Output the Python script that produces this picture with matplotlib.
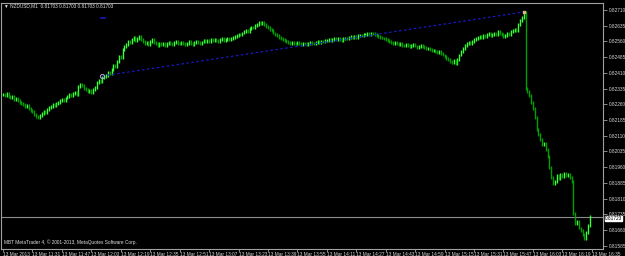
import matplotlib
matplotlib.use("Agg")
import matplotlib.pyplot as plt
import numpy as np

# ---- data ----
first_open = 0.82305
closes = [
    0.82305, 0.82300, 0.82310, 0.82298, 0.82290, 0.82295, 0.82285, 0.82290, 0.82278, 0.82270, 0.82265,
    0.82260, 0.82250, 0.82255, 0.82240, 0.82230, 0.82225, 0.82210, 0.82200, 0.82195, 0.82205,
    0.82215, 0.82225, 0.82220, 0.82235, 0.82245, 0.82250, 0.82258, 0.82252, 0.82262, 0.82270,
    0.82278, 0.82285, 0.82280, 0.82290, 0.82298, 0.82305, 0.82300, 0.82310, 0.82315, 0.82308,
    0.82345, 0.82355, 0.82348, 0.82335, 0.82330, 0.82320, 0.82325, 0.82315, 0.82330, 0.82340, 0.82365, 0.82375, 0.82370, 0.82388,
    0.82392, 0.82398, 0.82410, 0.82405, 0.82425, 0.82445, 0.82440, 0.82465, 0.82490, 0.82485, 0.82520,
    0.82535, 0.82545, 0.82560, 0.82555, 0.82570, 0.82578, 0.82565, 0.82575, 0.82582, 0.82570,
    0.82560, 0.82550, 0.82555, 0.82545, 0.82560, 0.82568, 0.82555, 0.82548, 0.82540, 0.82550, 0.82545, 0.82552, 0.82540, 0.82548, 0.82555,
    0.82550, 0.82545, 0.82555, 0.82560, 0.82552, 0.82548, 0.82556, 0.82550, 0.82545, 0.82552, 0.82558, 0.82550, 0.82546, 0.82554, 0.82560, 0.82555, 0.82550, 0.82557, 0.82562, 0.82558,
    0.82565, 0.82560, 0.82568, 0.82562, 0.82570, 0.82565, 0.82560, 0.82567, 0.82572, 0.82566, 0.82570, 0.82575, 0.82568, 0.82573, 0.82580,
    0.82585, 0.82590, 0.82595, 0.82592, 0.82600, 0.82605, 0.82612, 0.82608, 0.82620, 0.82628, 0.82625, 0.82635, 0.82640, 0.82650, 0.82645,
    0.82648, 0.82640, 0.82632, 0.82625, 0.82618, 0.82610, 0.82600, 0.82595, 0.82590, 0.82580, 0.82575, 0.82570, 0.82565, 0.82560, 0.82555,
    0.82552, 0.82555, 0.82550, 0.82548, 0.82553, 0.82550, 0.82546, 0.82552, 0.82549, 0.82545, 0.82550, 0.82555, 0.82552, 0.82548, 0.82553, 0.82558, 0.82555, 0.82560, 0.82557, 0.82562,
    0.82565, 0.82568, 0.82563, 0.82570, 0.82572, 0.82568, 0.82575, 0.82570, 0.82566, 0.82572, 0.82576, 0.82573, 0.82578, 0.82582, 0.82578, 0.82585, 0.82580, 0.82586, 0.82590, 0.82587,
    0.82592, 0.82595, 0.82598, 0.82594, 0.82600, 0.82596, 0.82592, 0.82588, 0.82585, 0.82580, 0.82576, 0.82572, 0.82568, 0.82565, 0.82560,
    0.82556, 0.82552, 0.82555, 0.82548, 0.82545, 0.82550, 0.82542, 0.82538, 0.82543, 0.82540, 0.82535, 0.82540, 0.82545, 0.82538, 0.82532, 0.82536, 0.82540, 0.82535, 0.82530, 0.82525, 0.82528, 0.82520, 0.82515, 0.82518, 0.82510,
    0.82505, 0.82510, 0.82500, 0.82495, 0.82488, 0.82480, 0.82472, 0.82465, 0.82458, 0.82470,
    0.82452, 0.82475, 0.82495, 0.82510, 0.82525, 0.82540, 0.82548, 0.82555, 0.82550, 0.82560,
    0.82570, 0.82575, 0.82580, 0.82585, 0.82578, 0.82590, 0.82585, 0.82592, 0.82598, 0.82590, 0.82595, 0.82600, 0.82595, 0.82605, 0.82598,
    0.82592, 0.82585, 0.82590, 0.82600, 0.82595, 0.82605, 0.82610, 0.82615, 0.82610, 0.82640, 0.82660, 0.82675, 0.82700,
    0.82335, 0.82320, 0.82300, 0.82270, 0.82240, 0.82195, 0.82140, 0.82115, 0.82090, 0.82070, 0.82075, 0.82045, 0.82010,
    0.81960, 0.81910, 0.81880, 0.81890, 0.81920, 0.81905, 0.81925, 0.81915, 0.81930, 0.81920, 0.81925, 0.81910, 0.81890,
    0.81740, 0.81690, 0.81700, 0.81670, 0.81660, 0.81640, 0.81620, 0.81650, 0.81680, 0.81723,
]
current_price = 0.81723
y_ticks = [0.82710, 0.82635, 0.82560, 0.82485, 0.82410, 0.82335, 0.82260, 0.82185,
           0.82110, 0.82035, 0.81960, 0.81885, 0.81810, 0.81735, 0.81660, 0.81585]
x_tick_labels = ["13 Mar 2013", "13 Mar 11:31", "13 Mar 11:47", "13 Mar 12:03", "13 Mar 12:19",
                 "13 Mar 12:35", "13 Mar 12:51", "13 Mar 13:07", "13 Mar 13:23", "13 Mar 13:39",
                 "13 Mar 13:55", "13 Mar 14:11", "13 Mar 14:27", "13 Mar 14:43", "13 Mar 14:59",
                 "13 Mar 15:15", "13 Mar 15:31", "13 Mar 15:47", "13 Mar 16:03", "13 Mar 16:19",
                 "13 Mar 16:35"]
bars_per_label = 16
trend_x = [54, 283]
trend_y = [0.82395, 0.82700]
title_text = "NZDUSD,M1  0.81703 0.81703 0.81703 0.81703"
footer_text = "MBT MetaTrader 4, © 2001-2013, MetaQuotes Software Corp."

# ---- figure ----
W, H = 625, 256
FS = 3.4
fig = plt.figure(figsize=(W / 100, H / 100), dpi=100, facecolor="black")
ax = fig.add_axes([1 / W, (H - 249) / H, 602 / W, 246 / H], facecolor="black")

closes_a = np.array(closes)
opens_a = np.concatenate([[first_open], closes_a[:-1]])
wick = 0.00007
highs = np.maximum(opens_a, closes_a) + wick
lows = np.minimum(opens_a, closes_a) - wick
idx = np.arange(len(closes_a))
up = closes_a >= opens_a

ax.axhline(current_price, color="#8c8c8c", lw=0.8, zorder=1)
ax.vlines(idx[up], lows[up], highs[up], color="#3cff3c", lw=1.0, zorder=3)
ax.vlines(idx[~up], lows[~up], highs[~up], color="#00a000", lw=1.0, zorder=3)

ax.plot(trend_x, trend_y, color="#1818c8", lw=0.9, ls=(0, (2, 2)), zorder=4)
ax.plot(trend_x[0], trend_y[0], marker="o", ms=3, mfc="none", mec="#b0b0d0", mew=0.7, zorder=5)
ax.plot(trend_x[1], trend_y[1], marker="s", ms=2, mfc="#e0b080", mec="#e0b080", zorder=5)
ax.plot([trend_x[0] - 0.5, trend_x[0] + 1.5], [0.82672, 0.82672], color="#1818c8", lw=1.2, zorder=4)

ax.set_xlim(-1.1, 326.1)
ax.set_ylim(0.81570, 0.82743)

for s in ["left", "top", "right", "bottom"]:
    ax.spines[s].set_color("#a0a0a0")
    ax.spines[s].set_linewidth(0.8)

ax.yaxis.tick_right()
ax.set_yticks(y_ticks)
ax.set_yticklabels([f"{v:.5f}" for v in y_ticks])
ax.tick_params(axis="y", colors="#a0a0a0", length=3, width=0.6, pad=1,
               labelsize=FS, labelcolor="#d8d8d8")
for lab in ax.get_yticklabels():
    lab.set_fontfamily("Liberation Sans")

xt = [i * bars_per_label for i in range(len(x_tick_labels))]
ax.set_xticks(xt)
ax.set_xticklabels(x_tick_labels)
ax.tick_params(axis="x", colors="#a0a0a0", length=2, width=0.6, pad=0.3,
               labelsize=FS, labelcolor="#d8d8d8")
for lab in ax.get_xticklabels():
    lab.set_fontfamily("Liberation Sans")
    lab.set_horizontalalignment("left")

# current price label
ax.text(1.0 + 2 / 602, current_price - 0.00007, f"{current_price:.5f}", transform=ax.get_yaxis_transform(),
        ha="left", va="center", fontsize=FS, family="Liberation Sans", color="black",
        bbox=dict(boxstyle="square,pad=0.05", fc="white", ec="white"), clip_on=False, zorder=10)

fig.text(4 / W, 1 - 6 / H, "\u25bc " + title_text, ha="left", va="center", fontsize=FS,
         family="Liberation Sans", color="#e0e0e0")
fig.text(4 / W, 1 - 242 / H, footer_text, ha="left", va="center", fontsize=FS,
         family="Liberation Sans", color="#e0e0e0")

fig.savefig("out.png", dpi=100, facecolor="black")
